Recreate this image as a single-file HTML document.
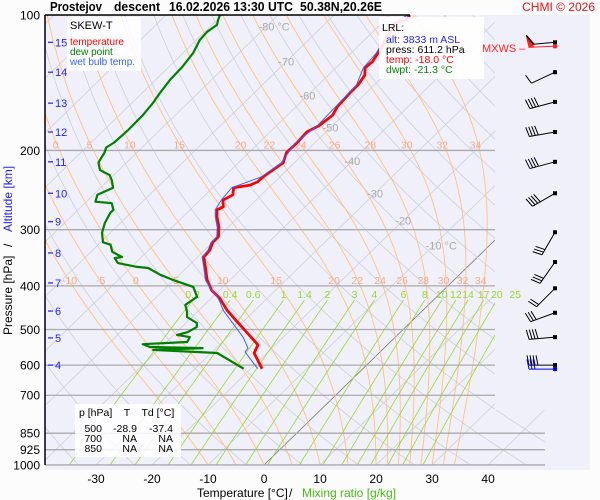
<!DOCTYPE html>
<html><head><meta charset="utf-8"><style>
html,body{margin:0;padding:0;background:#fff;}
svg{display:block;font-family:"Liberation Sans",sans-serif;}
</style></head><body>
<svg id="chart" width="600" height="500" viewBox="0 0 600 500" xmlns="http://www.w3.org/2000/svg">
<defs><clipPath id="clip"><polygon points="45,15 495,15 495,410 545,410 545,465 45,465"/></clipPath></defs>
<rect x="0" y="0" width="600" height="500" fill="#fcfcfc"/>
<rect x="45" y="15" width="545" height="455" fill="#f0f0fb"/>
<g id="grid" clip-path="url(#clip)"></g>
<g id="plines"></g>
<g id="labels"></g>
<g id="series"></g>
<g id="barbs"></g>
<line x1="45" y1="15" x2="45" y2="465" stroke="#000" stroke-width="1.5"/>
<line x1="45" y1="15" x2="410" y2="15" stroke="#000" stroke-width="1.5"/>
<g font-size="13" font-weight="bold">
<text x="50" y="11" textLength="52" lengthAdjust="spacingAndGlyphs">Prostejov</text>
<text x="114" y="11" textLength="46" lengthAdjust="spacingAndGlyphs">descent</text>
<text x="169" y="11" textLength="124" lengthAdjust="spacingAndGlyphs">16.02.2026 13:30 UTC</text>
<text x="300" y="11" textLength="82" lengthAdjust="spacingAndGlyphs">50.38N,20.26E</text>
</g>
<text x="595" y="11" font-size="12" fill="#ee1111" text-anchor="end">CHMI © 2026</text>
<g>
<rect x="67" y="17" width="74" height="54" fill="#fff" opacity="0.85"/>
<text x="70" y="29" font-size="11">SKEW-T</text>
<text x="70" y="45" font-size="10" fill="#ff0000">temperature</text>
<text x="70" y="55" font-size="10" fill="#008000">dew point</text>
<text x="70" y="65" font-size="10" fill="#3366ff">wet bulb temp.</text>
</g>
<g>
<rect x="379" y="17" width="105" height="62" fill="#fff" opacity="0.9"/>
<text x="382" y="31" font-size="10.5">LRL:</text>
<text x="386" y="43" font-size="10.5" fill="#2222ff">alt: 3833 m ASL</text>
<text x="386" y="53" font-size="10.5">press: 611.2 hPa</text>
<text x="386" y="63" font-size="10.5" fill="#ff0000">temp: -18.0 °C</text>
<text x="386" y="73" font-size="10.5" fill="#008800">dwpt: -21.3 °C</text>
</g>
<text x="482" y="52" font-size="11" fill="#ff2222">MXWS –</text>
<g>
<rect x="75" y="404" width="106" height="53" fill="#fff" opacity="0.85"/>
<text x="79" y="416" font-size="10.5" xml:space="preserve">p [hPa]    T    Td [°C]</text>
<text x="102" y="432" font-size="10.5" text-anchor="end">500</text><text x="137" y="432" font-size="10.5" text-anchor="end">-28.9</text><text x="173" y="432" font-size="10.5" text-anchor="end">-37.4</text>
<text x="102" y="442" font-size="10.5" text-anchor="end">700</text><text x="137" y="442" font-size="10.5" text-anchor="end">NA</text><text x="173" y="442" font-size="10.5" text-anchor="end">NA</text>
<text x="102" y="452" font-size="10.5" text-anchor="end">850</text><text x="137" y="452" font-size="10.5" text-anchor="end">NA</text><text x="173" y="452" font-size="10.5" text-anchor="end">NA</text>
</g>
<g>
<text x="197" y="497" font-size="12">Temperature [°C]</text>
<text x="289" y="497" font-size="12">/</text>
<text x="302" y="497" font-size="12" fill="#44bb11">Mixing ratio [g/kg]</text>
</g>
<g transform="translate(12,335) rotate(-90)">
<text x="0" y="0" font-size="12">Pressure [hPa]</text>
<text x="88" y="0" font-size="12">/</text>
<text x="103" y="0" font-size="12" fill="#2222ff">Altitude [km]</text>
</g>
</svg>
<script>
const tempP=[611,564,541,509,481,453,426,409,388,363,345,333,320,311,296,281,271,267,258,251,242,239,235,229,213,202,193,182,176,167,160,149,143,136,131,127,121.5,118,112,107,104,102.6,100];
const tempT=[-18.0,-22.3,-23.1,-27.2,-31.0,-35.0,-38.5,-41.4,-44.1,-46.8,-48.9,-49.1,-50.0,-50.0,-51.7,-53.9,-55.2,-54.6,-55.9,-55.1,-56.3,-53.9,-53.1,-53.0,-52.0,-53.3,-53.2,-53.4,-52.4,-51.9,-52.6,-52.9,-52.9,-53.5,-54.8,-54.6,-55.2,-55.6,-56.5,-57.1,-57.7,-56.1,-56.5];
const wbP=[611,561,550,520,484,453,434,420,405,388,363,345,333,320,311,296,281,271,258,242,229,213,193,176,160,143,131,121.5,112,104,100];
const wbT=[-18.8,-24.1,-24.3,-27.2,-31.6,-35.7,-37.8,-39.6,-42.0,-44.4,-47.1,-49.2,-49.4,-50.3,-50.3,-52.0,-54.2,-55.5,-56.2,-56.6,-53.3,-52.3,-53.5,-52.7,-52.9,-53.2,-55.1,-55.5,-56.8,-58.0,-56.8];
const dewP=[611,564,555,550,547,539,533,520,514,507,494,484,469,457,441,423,402,388,378,365,363,356,347,345,336,324,320,305,290,275,271,262,260,251,242,233,227,221,213,202,197,192,180,167,157,149,139.5,130.5,121.5,113.7,109,105.2,102.6,100];
const dewT=[-21.3,-28.9,-40.9,-32.4,-42.0,-43.8,-36.3,-36.7,-39.4,-38.0,-37.3,-38.0,-40.9,-41.8,-43.4,-42.8,-45.3,-50.2,-53.4,-56.8,-59.0,-63.1,-64.6,-63.5,-66.2,-67.8,-69.6,-71.5,-72.8,-73.7,-73.7,-75.2,-78.4,-79.3,-77.8,-79.4,-80.7,-83.4,-85.0,-85.8,-86.4,-85.9,-85.7,-85.8,-86.2,-86.8,-87.4,-87.6,-88.2,-89.4,-89.6,-89.1,-89.8,-90.4];
const pressureTicks=[100,200,300,400,500,600,700,850,925,1000];
const tempTicks=[-30,-20,-10,0,10,20,30,40];
const altKm=[4,5,6,7,8,9,10,11,12,13,14,15];
const altP=[600,522,455,394,338,288,249,212,182,157,134,115];
const isoLabelT=[-80,-70,-60,-50,-40,-30,-20,-10];
const isoLabelP=[106,127,151,178,211,249,286,325];
const thetaW=[-10,-5,0,5,10,15,20,22,24,26,28,30,32,34];
const thetaW200=[0,5,10,15,20,22,24,26,28,30,32,34];
const mixRatios=[0.2,0.4,0.6,1,1.4,2,3,4,6,8,10,12,14,17,20,25];
const windP=[115,134,156,182,212,249,304,354,405,459,520,600];
const windDir=[265,245,255,260,255,240,210,215,225,250,265,270];
const windSpd=[50,10,40,40,40,40,30,30,20,30,40,40];

const NS="http://www.w3.org/2000/svg";
function yP(p){return 15+195.4*Math.log(p/100);}
function xT(T,p){return 264+5.6*T+1.027*(465-yP(p));}
function mk(tag,attrs,parent){const e=document.createElementNS(NS,tag);for(const k in attrs)e.setAttribute(k,attrs[k]);parent.appendChild(e);return e;}
const grid=document.getElementById('grid'),plines=document.getElementById('plines'),labels=document.getElementById('labels'),series=document.getElementById('series'),barbs=document.getElementById('barbs');
function pathFrom(pts){return pts.map((q,i)=>(i?'L':'M')+q[0].toFixed(1)+','+q[1].toFixed(1)).join('');}

for(let T=-140;T<=50;T+=10){
  const l=mk('line',{x1:xT(T,1050),y1:yP(1050),x2:xT(T,100),y2:yP(100),stroke:T===0?'#777':'#cfcfd8','stroke-width':0.8},grid);
  
  
}
for(let th=230;th<=500;th+=10){
  const pts=[];for(let p=1050;p>=100;p-=10){pts.push([xT(th*Math.pow(p/1000,0.2857)-273.15,p),yP(p)]);}
  const e=mk('path',{d:pathFrom(pts),fill:'none',stroke:'#cfcfd8','stroke-width':0.8},grid);
  
  
}
function es(T){return 6.112*Math.exp(17.67*T/(T+243.5));}
function moist(tw){
  const out=[];let T=tw;const Rd=287,cp=1004,Lv=2.5e6,eps=0.622;
  for(let p=1000;p>=100;p-=2){
    out.push([p,T]);
    const Tk=T+273.15,e=es(T),r=eps*e/(p-e);
    const dTdp=(Rd*Tk+Lv*r)/(p*(cp+Lv*Lv*r*eps/(Rd*Tk*Tk)));
    T-=dTdp*2;
  }
  return out;
}
const moistMap={};
thetaW.forEach(tw=>{
  const m=moist(tw);moistMap[tw]=m;
  const pts=m.map(q=>[xT(q[1],q[0]),yP(q[0])]);
  const e=mk('path',{d:pathFrom(pts),fill:'none',stroke:'#ffc27a','stroke-width':0.9},grid);
  
  
});
function moistAt(tw,p){const m=moistMap[tw];let best=m[0];m.forEach(q=>{if(Math.abs(q[0]-p)<Math.abs(best[0]-p))best=q;});return best[1];}
function tdFromW(w,p){const e=w*p/(622+w);const a=Math.log(e/6.112);return 243.5*a/(17.67-a);}
mixRatios.forEach(w=>{
  const pts=[];for(let p=1000;p>=430;p-=10)pts.push([xT(tdFromW(w,p),p),yP(p)]);
  const e=mk('path',{d:pathFrom(pts),fill:'none',stroke:'#99d92a','stroke-width':0.8},grid);
  
  
  const t=mk('text',{x:xT(tdFromW(w,430),430),y:yP(430)-2,'font-size':10.5,fill:'#99d92a','text-anchor':'middle'},labels);
  t.textContent=String(w);
  
  
});
pressureTicks.forEach(p=>{
  if(p>100){
    const l=mk('line',{x1:45,y1:yP(p),x2:p>=850?545:495,y2:yP(p),stroke:'#aaaaaa','stroke-width':1.3},plines);
    
    
  }
  const t=mk('text',{x:40,y:yP(p)+4.5,'font-size':12,'text-anchor':'end'},labels);
  t.textContent=String(p);
  
  
});
tempTicks.forEach(T=>{
  const t=mk('text',{x:xT(T,1000),y:483,'font-size':12,'text-anchor':'middle'},labels);
  t.textContent=String(T);
  
  
});
altKm.forEach((k,i)=>{
  const y=yP(altP[i]);
  const l=mk('line',{x1:48,y1:y,x2:53,y2:y,stroke:'#2222ff','stroke-width':1.2},labels);
  
  
  const t=mk('text',{x:55,y:y+4,'font-size':11,fill:'#2222ff'},labels);
  t.textContent=String(k);
  
  
});
isoLabelT.forEach((T,i)=>{
  const p=isoLabelP[i];
  const t=mk('text',{x:xT(T,p)-8,y:yP(p)+4,'font-size':11,fill:'#aaaaaa'},labels);
  t.textContent=(T===-80||T===-10)?T+' °C':String(T);
  
  
});
thetaW200.forEach(tw=>{
  const t=mk('text',{x:xT(moistAt(tw,200),200)-4,y:yP(200)-2,'font-size':10.5,fill:'#f7a98c','text-anchor':'middle'},labels);
  t.textContent=String(tw);
  
  
});
thetaW.forEach(tw=>{
  const t=mk('text',{x:xT(moistAt(tw,400),400)-3,y:yP(400)-2,'font-size':10.5,fill:'#f7a98c','text-anchor':'middle'},labels);
  t.textContent=String(tw);
  
  
});
function line(P,T,color,w,name){
  const pts=P.map((p,i)=>[xT(T[i],p),yP(p)]);
  const e=mk('path',{d:pathFrom(pts),fill:'none',stroke:color,'stroke-width':w,'stroke-linejoin':'round'},series);
  
  
}
line(dewP,dewT,'#008000',2.2,'dew-point-line');
line(tempP,tempT,'#ff0000',2.8,'temperature-line');
line(wbP,wbT,'#3366ff',1,'wet-bulb-line');
function barb(p,dir,spd,color,dy){
  const x0=555,y0=yP(p)+dy,L=26,r=dir*Math.PI/180;
  const ux=Math.sin(r),uy=-Math.cos(r);
  const ex=x0+ux*L,ey=y0+uy*L;
  const g=mk('g',{stroke:color,fill:'none','stroke-width':1},barbs);
  
  
  mk('line',{x1:x0,y1:y0,x2:ex,y2:ey},g);
  mk('rect',{x:x0-2,y:y0-2,width:4,height:4,fill:color,stroke:'none'},g);
  const fx=-uy*0.97+ux*0.2,fy=ux*0.97+uy*0.2;
  let s=spd,pos=0;
  while(s>=50){const bx=ex-ux*pos,by=ey-uy*pos;mk('polygon',{points:`${bx},${by} ${bx+fx*10},${by+fy*10} ${bx-ux*5},${by-uy*5}`,fill:color},g);pos+=6;s-=50;}
  while(s>=10){const bx=ex-ux*pos,by=ey-uy*pos;mk('line',{x1:bx,y1:by,x2:bx+fx*10,y2:by+fy*10},g);pos+=3;s-=10;}
  if(s>=5){const bx=ex-ux*pos,by=ey-uy*pos;mk('line',{x1:bx,y1:by,x2:bx+fx*5,y2:by+fy*5},g);}
}
windP.forEach((p,i)=>barb(p,windDir[i],windSpd[i],'#000',0));
barb(windP[0],268,50,'#ff2222',4);
barb(windP[windP.length-1],270,30,'#0000ee',4);
</script>
</body></html>
